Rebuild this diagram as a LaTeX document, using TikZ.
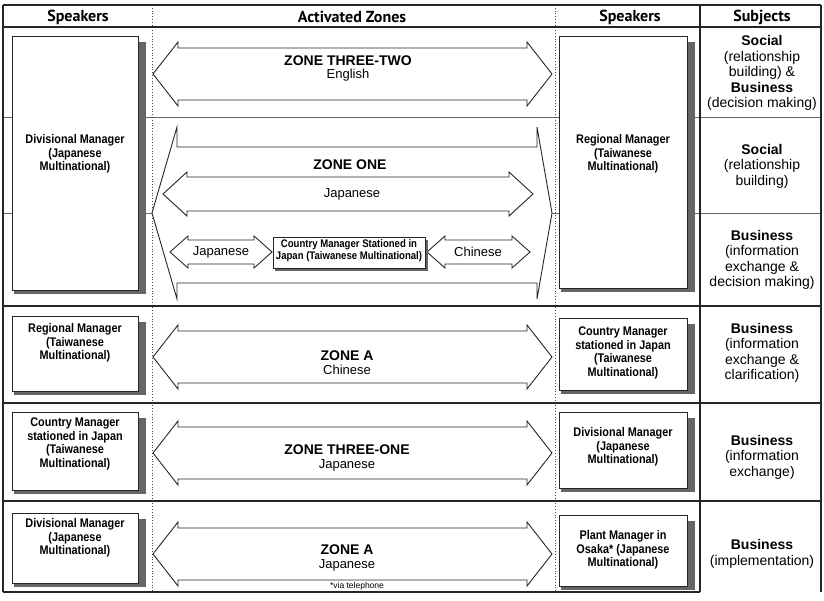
\documentclass[tikz,border=0pt]{standalone}
\usepackage{fontspec}
\setmainfont{Liberation Sans}
\newfontfamily\hdfont{PT Sans}
\newfontfamily\bxfont[FakeStretch=0.87]{Liberation Sans}
\newcommand{\dblarr}[6]{% y, left tip x, right tip x, head half, shaft half, head length
  \draw[zarrow] ({#2},{#1}) -- ({#2+#6},{#1-#4}) -- ({#2+#6},{#1-#5}) -- ({#3-#6},{#1-#5})
    -- ({#3-#6},{#1-#4}) -- ({#3},{#1}) -- ({#3-#6},{#1+#4}) -- ({#3-#6},{#1+#5})
    -- ({#2+#6},{#1+#5}) -- ({#2+#6},{#1+#4}) -- cycle;}
\newcommand{\spkbox}[5]{% name, x1, y1, x2, y2
  \fill[shadowfill] ({#2+2},{#3+6}) rectangle ({#4+8},{#5+4});
  \node[spbox, anchor=north west, minimum width={(#4-#2)*1pt}, minimum height={(#5-#3)*1pt}] (#1) at (#2,#3) {};}
\tikzset{
  frame/.style={line width=1.3pt, draw=black!85},
  rowline/.style={line width=1.2pt, draw=black!85},
  dotline/.style={line width=0.8pt, dotted, draw=black!70},
  thinline/.style={line width=0.6pt, draw=black!60},
  zarrow/.style={draw=black!85, line width=0.9pt, fill=white, line join=miter},
  spbox/.style={draw=black!85, line width=0.9pt, fill=white, inner sep=0pt},
  shadowfill/.style={fill=black!60},
  boxtext/.style={font=\bxfont\bfseries\fontsize{12.5}{13.5}\selectfont, align=center, inner sep=0pt},
  smalltext/.style={font=\bxfont\bfseries\fontsize{11}{12}\selectfont, align=center, inner sep=0pt},
  subj/.style={font=\fontsize{14}{15.5}\selectfont, align=center, inner sep=0pt},
  ztitle/.style={font=\bfseries\fontsize{14}{15}\selectfont, inner sep=0pt},
  zlang/.style={font=\fontsize{13}{14}\selectfont, inner sep=0pt},
  header/.style={font=\hdfont\bfseries\fontsize{16}{18}\selectfont, inner sep=0pt},
}
\begin{document}
\begin{tikzpicture}[x=1pt,y=-1pt]
\useasboundingbox (0,0) rectangle (824,601);
% grid lines
\draw[thinline] (3,117) -- (821,117);
\draw[thinline] (3,213) -- (821,213);
\draw[dotline] (152,5) -- (152,592);
\draw[dotline] (555,5) -- (555,592);
\draw[frame] (700,5) -- (700,592);
\draw[frame] (3,5) -- (821,5);
\draw[frame] (3,27) -- (821,27);
\draw[rowline] (3,306) -- (821,306);
\draw[rowline] (3,403) -- (821,403);
\draw[rowline] (3,501) -- (821,501);
\draw[frame] (3,592) -- (700,592);
\draw[frame] (3,5) -- (3,592);
\draw[frame] (821,5) -- (821,592);
% headers
\node[header] (h1) at (78,17) {Speakers};
\node[header] (h2) at (352,17) {Activated Zones};
\node[header] (h3) at (630,17) {Speakers};
\node[header] (h4) at (762,17) {Subjects};
% arrows
\dblarr{74}{153}{552}{32}{26}{25}
\draw[zarrow] (152,213) -- (177,127) -- (177,147) -- (537,147) -- (537,127) -- (552,213)
  -- (537,299) -- (537,283) -- (177,283) -- (177,299) -- cycle;
\dblarr{194}{163}{533}{22}{17}{24}
\dblarr{252}{170}{272}{16}{12}{18}
\dblarr{252}{427}{530}{16}{12}{18}
\dblarr{357}{153}{552}{32}{26}{25}
\dblarr{453}{153}{552}{32}{26}{25}
\dblarr{554}{153}{552}{32}{26}{25}
% zone texts
\node[ztitle] (z32) at (348,61) {ZONE THREE-TWO};
\node[zlang] (z32l) at (348,75) {English};
\node[ztitle] (z1) at (350,165) {ZONE ONE};
\node[zlang] (z1l) at (352,194) {Japanese};
\node[zlang] (z1a) at (221,252) {Japanese};
\node[zlang] (z1b) at (478,252) {Chinese};
\node[ztitle] (za1) at (347,356) {ZONE A};
\node[zlang] (za1l) at (347,370) {Chinese};
\node[ztitle] (z31) at (347,450) {ZONE THREE-ONE};
\node[zlang] (z31l) at (347,465) {Japanese};
\node[ztitle] (za2) at (347,550) {ZONE A};
\node[zlang] (za2l) at (347,565) {Japanese};
\node[font=\fontsize{8.5}{10}\selectfont, inner sep=0pt] (tel) at (357,586) {*via telephone};
% small country manager box
\fill[shadowfill] (275,240) rectangle (428,271);
\node[spbox, anchor=north west, minimum width=152pt, minimum height=31pt] (cmbox) at (273,237) {};
\node[smalltext] (cmt) at (349,251) {Country Manager Stationed in\\Japan (Taiwanese Multinational)};
% speaker boxes
\spkbox{L1}{12}{36}{138}{290}
\spkbox{R1}{559}{36}{687}{288}
\spkbox{L2}{12}{316}{138}{391}
\spkbox{R2}{559}{318}{687}{390}
\spkbox{L3}{12}{412}{138}{490}
\spkbox{R3}{559}{412}{687}{488}
\spkbox{L4}{12}{513}{138}{583}
\spkbox{R4}{559}{515}{687}{586}
\node[boxtext] (L1t) at (75,154) {Divisional Manager\\(Japanese\\Multinational)};
\node[boxtext] (R1t) at (623,154) {Regional Manager\\(Taiwanese\\Multinational)};
\node[boxtext] (L2t) at (75,343) {Regional Manager\\(Taiwanese\\Multinational)};
\node[boxtext] (R2t) at (623,353) {Country Manager\\stationed in Japan\\(Taiwanese\\Multinational)};
\node[boxtext] (L3t) at (75,444) {Country Manager\\stationed in Japan\\(Taiwanese\\Multinational)};
\node[boxtext] (R3t) at (623,447) {Divisional Manager\\(Japanese\\Multinational)};
\node[boxtext] (L4t) at (75,538) {Divisional Manager\\(Japanese\\Multinational)};
\node[boxtext] (R4t) at (623,550) {Plant Manager in\\Osaka* (Japanese\\Multinational)};
% subjects
\node[subj] (s1) at (762,73) {\textbf{Social}\\(relationship\\building) \&\\\textbf{Business}\\(decision making)};
\node[subj] (s2) at (762,166) {\textbf{Social}\\(relationship\\building)};
\node[subj] (s3) at (762,260) {\textbf{Business}\\(information\\exchange \&\\decision making)};
\node[subj] (s4) at (762,353) {\textbf{Business}\\(information\\exchange \&\\clarification)};
\node[subj] (s5) at (762,457) {\textbf{Business}\\(information\\exchange)};
\node[subj] (s6) at (762,554) {\textbf{Business}\\(implementation)};
\end{tikzpicture}
\end{document}
